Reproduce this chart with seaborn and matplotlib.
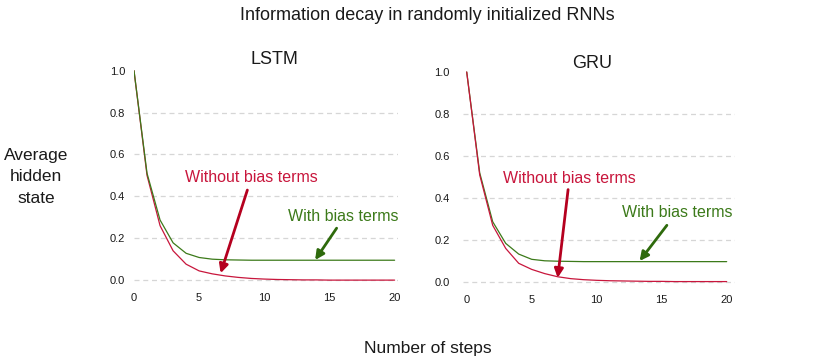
import numpy as np
import pandas as pd
import matplotlib
matplotlib.use("Agg")
import matplotlib.pyplot as plt
import seaborn as sns

# ---- data ----
steps = list(range(21))
lstm_with_bias = [1.0, 0.51, 0.287, 0.178, 0.128, 0.108, 0.100, 0.097, 0.096, 0.095,
                  0.095, 0.095, 0.095, 0.095, 0.095, 0.095, 0.095, 0.095, 0.095, 0.095, 0.095]
lstm_without_bias = [1.0, 0.50, 0.26, 0.14, 0.076, 0.044, 0.030, 0.020, 0.013, 0.008,
                     0.005, 0.003, 0.002, 0.001, 0.001, 0.0, 0.0, 0.0, 0.0, 0.0, 0.0]
gru_with_bias = [1.0, 0.52, 0.287, 0.184, 0.133, 0.108, 0.101, 0.099, 0.098, 0.097,
                 0.097, 0.097, 0.097, 0.097, 0.097, 0.097, 0.097, 0.097, 0.097, 0.097, 0.097]
gru_without_bias = [1.0, 0.51, 0.27, 0.16, 0.089, 0.060, 0.040, 0.025, 0.016, 0.011,
                    0.008, 0.006, 0.005, 0.004, 0.003, 0.003, 0.002, 0.002, 0.002, 0.002, 0.002]
yticks = [0.0, 0.2, 0.4, 0.6, 0.8, 1.0]
xticks = [0, 5, 10, 15, 20]
series_names = ["With bias terms", "Without bias terms"]

RED = "#c8163c"
GREEN = "#3c7a1a"
RED_ARROW = "#b5001f"
GREEN_ARROW = "#2e6a0c"
TXT = "#1a1a1a"

sns.set_style("white")
plt.rcParams["font.family"] = ["Liberation Sans", "DejaVu Sans"]

fig = plt.figure(figsize=(8.3, 3.63), dpi=100)
W, H = 830, 363

def make_df(with_b, without_b):
    return pd.DataFrame({
        "step": steps * 2,
        "value": with_b + without_b,
        "series": [series_names[0]] * len(steps) + [series_names[1]] * len(steps),
    })

panels = [
    dict(name="LSTM", with_b=lstm_with_bias, without_b=lstm_without_bias,
         rect=(134, 64.4, 264, 222), xlim=(0, 20.26), order=[series_names[1], series_names[0]],
         title_xy=(274, 60),
         wo_text=(9.03, 0.49), wo_tail=(8.7, 0.43), wo_tip=(6.65, 0.033),
         w_text=(16.05, 0.306), w_tail=(15.55, 0.248), w_tip=(13.9, 0.096), ypad=6.5),
    dict(name="GRU", with_b=gru_with_bias, without_b=gru_without_bias,
         rect=(463, 65.7, 272, 222.6), xlim=(-0.285, 20.64), order=[series_names[0], series_names[1]],
         title_xy=(592, 63),
         wo_text=(7.87, 0.495), wo_tail=(7.8, 0.44), wo_tip=(7.0, 0.02),
         w_text=(16.18, 0.329), w_tail=(15.4, 0.27), w_tip=(13.3, 0.1), ypad=9.5),
]

for p in panels:
    l, t, w, h = p["rect"]
    ax = fig.add_axes([l / W, 1 - (t + h) / H, w / W, h / H])
    df = make_df(p["with_b"], p["without_b"])
    for s in p["order"]:
        sub = df[df["series"] == s]
        sns.lineplot(data=sub, x="step", y="value", ax=ax,
                     color=GREEN if s == series_names[0] else RED,
                     lw=0.9, legend=False)
    ax.set_xlim(*p["xlim"])
    ax.set_ylim(-0.03, 1.03)
    ax.set_yticks(yticks)
    ax.set_yticklabels([f"{v:.1f}" for v in yticks])
    ax.set_xticks(xticks)
    ax.set_xticklabels([str(v) for v in xticks])
    ax.set_xlabel("")
    ax.set_ylabel("")
    for sp in ax.spines.values():
        sp.set_visible(False)
    ax.tick_params(axis="both", length=0, labelsize=8, colors=TXT)
    ax.tick_params(axis="y", pad=p["ypad"])
    ax.tick_params(axis="x", pad=5)
    ax.grid(axis="y", color="#d6d6d6", lw=0.9, ls=(0, (4, 3)))
    ax.grid(axis="x", visible=False)
    ax.set_axisbelow(True)
    ax.yaxis.get_gridlines()[-1].set_visible(False)

    ax.text(*p["wo_text"], "Without bias terms", color=RED, fontsize=11.5,
            ha="center", va="center")
    ax.text(*p["w_text"], "With bias terms", color=GREEN, fontsize=11.5,
            ha="center", va="center")
    ax.annotate("", xy=p["wo_tip"], xytext=p["wo_tail"],
                arrowprops=dict(arrowstyle="-|>", color=RED_ARROW, lw=2,
                                mutation_scale=13, shrinkA=0, shrinkB=0))
    ax.annotate("", xy=p["w_tip"], xytext=p["w_tail"],
                arrowprops=dict(arrowstyle="-|>", color=GREEN_ARROW, lw=2,
                                mutation_scale=13, shrinkA=0, shrinkB=0))

    tx, ty = p["title_xy"]
    fig.text(tx / W, 1 - ty / H, p["name"], fontsize=13, color=TXT,
             ha="center", va="center")

fig.text(427 / W, 1 - 15 / H, "Information decay in randomly initialized RNNs",
         fontsize=13, color=TXT, ha="center", va="center")
fig.text(36 / W, 1 - 177 / H, "Average\nhidden\nstate", fontsize=12.5, color=TXT,
         ha="center", va="center", multialignment="center", linespacing=1.55)
fig.text(428 / W, 1 - 349 / H, "Number of steps", fontsize=12.5, color=TXT,
         ha="center", va="center")

fig.savefig("out.png", dpi=100)
